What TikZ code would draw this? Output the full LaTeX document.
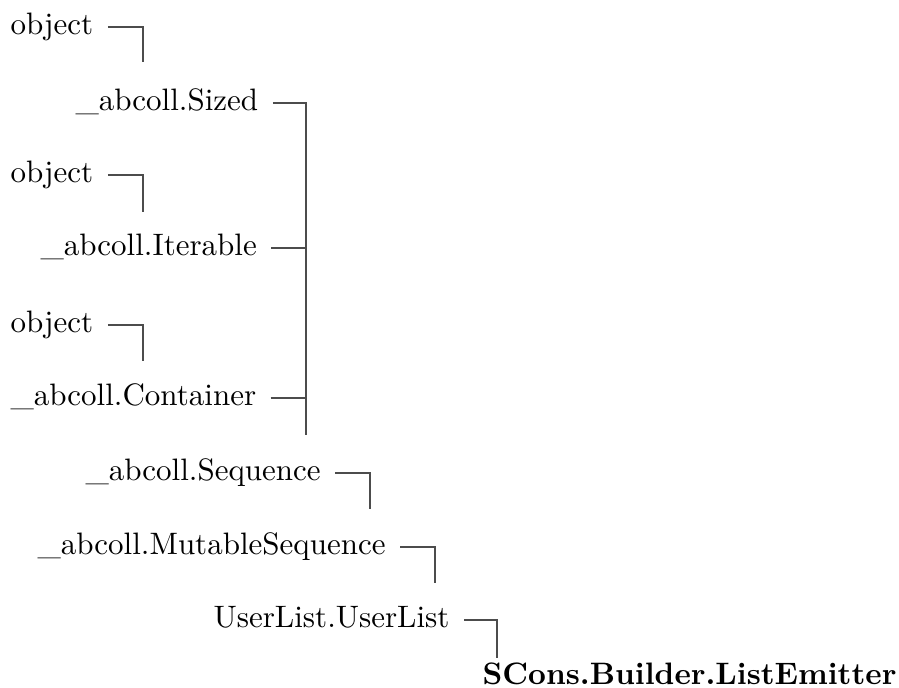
\documentclass[tikz,border=0pt]{standalone}
\begin{document}
\begin{tikzpicture}[x=0.3226pt,y=-0.3226pt,
  cls/.style={anchor=west,inner sep=0pt,text height=7pt,text depth=2pt},
  edge/.style={draw=black!70,line width=0.5pt}]
\useasboundingbox (0,0) rectangle (899,688);
% class names
\node (obj1) at (10,27) [cls] {object};
\node (sized) at (75,103) [cls] {\_abcoll.Sized};
\node (obj2) at (10,175) [cls] {object};
\node (iter) at (40,248) [cls] {\_abcoll.Iterable};
\node (obj3) at (10,325) [cls] {object};
\node (cont) at (10,398) [cls] {\_abcoll.Container};
\node (seq) at (85,473) [cls] {\_abcoll.Sequence};
\node (mseq) at (37,547) [cls] {\_abcoll.MutableSequence};
\node (ulist) at (213,620) [cls] {UserList.UserList};
\node (lemit) at (482,677) [cls] {\textbf{SCons.Builder.ListEmitter}};
% free ends of the connectors
\coordinate (c1) at (143,62);
\coordinate (c2) at (143,212);
\coordinate (c3) at (143,361);
\coordinate (trunk) at (306,435);
\coordinate (c4) at (370,509);
\coordinate (c5) at (435,583);
\coordinate (c6) at (497,658);
% connectors
\draw[edge] ([xshift=4.5pt]obj1.east) -| (c1);
\draw[edge] ([xshift=4.5pt]obj2.east) -| (c2);
\draw[edge] ([xshift=4.5pt]obj3.east) -| (c3);
\draw[edge] ([xshift=4.5pt]sized.east) -| (trunk);
\draw[edge] ([xshift=4.5pt]iter.east) -- (iter.east -| trunk);
\draw[edge] ([xshift=4.5pt]cont.east) -- (cont.east -| trunk);
\draw[edge] ([xshift=4.5pt]seq.east) -| (c4);
\draw[edge] ([xshift=4.5pt]mseq.east) -| (c5);
\draw[edge] ([xshift=4.5pt]ulist.east) -| (c6);
\end{tikzpicture}
\end{document}
